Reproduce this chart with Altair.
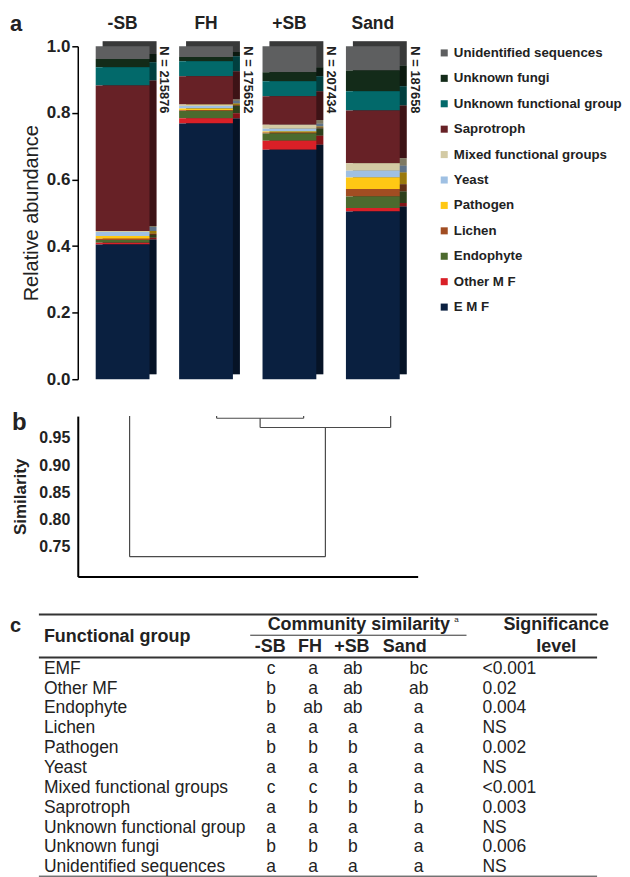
import altair as alt
import pandas as pd

# ---------------- data ----------------
sites = ["-SB", "FH", "+SB", "Sand"]
n_seqs = [215876, 175652, 207434, 187658]

groups = ["Unidentified sequences", "Unknown fungi", "Unknown functional group", "Saprotroph",
          "Mixed functional groups", "Yeast", "Pathogen", "Lichen", "Endophyte", "Other M F", "E M F"]
colors = ["#5e5f60", "#132b19", "#02696a", "#672126", "#d3caa4", "#9fc0e3",
          "#ffc814", "#a14d22", "#4c6a2e", "#d92027", "#0a2040"]

# relative abundance, same order as groups
ab_minus_sb = [0.038, 0.025, 0.055, 0.437, 0.003, 0.012, 0.008, 0.004, 0.008, 0.005, 0.405]
ab_fh = [0.032, 0.013, 0.045, 0.085, 0.004, 0.008, 0.005, 0.002, 0.022, 0.016, 0.768]
ab_plus_sb = [0.078, 0.027, 0.045, 0.086, 0.012, 0.008, 0.003, 0.003, 0.022, 0.027, 0.689]
ab_sand = [0.073, 0.062, 0.058, 0.158, 0.023, 0.020, 0.035, 0.022, 0.035, 0.010, 0.504]

# dendrogram (similarity)
leaf_order = ["-SB", "FH", "+SB", "Sand"]
merge_left = ["FH", "FH|+SB", "-SB"]
merge_right = ["+SB", "Sand", "FH|+SB|Sand"]
merge_sim = [0.986, 0.969, 0.7315]
sim_ticks = [0.75, 0.80, 0.85, 0.90, 0.95]

# table
table_groups = ["EMF", "Other MF", "Endophyte", "Lichen", "Pathogen", "Yeast",
                "Mixed functional groups", "Saprotroph", "Unknown functional group",
                "Unknown fungi", "Unidentified sequences"]
sim_minus_sb = ["c", "b", "b", "a", "b", "a", "c", "a", "a", "b", "a"]
sim_fh = ["a", "a", "ab", "a", "b", "a", "c", "b", "a", "b", "a"]
sim_plus_sb = ["ab", "ab", "ab", "a", "b", "a", "b", "b", "a", "b", "a"]
sim_sand = ["bc", "ab", "a", "a", "a", "a", "a", "b", "a", "a", "a"]
significance = ["<0.001", "0.02", "0.004", "NS", "0.002", "NS", "<0.001", "0.003", "NS", "0.006", "NS"]

TXT = "#222222"
FONT = "Liberation Sans"

# ---------------- panel a ----------------
rows = []
for s, vals in zip(sites, [ab_minus_sb, ab_fh, ab_plus_sb, ab_sand]):
    for k, (g, v) in enumerate(zip(groups, vals)):
        rows.append({"site": s, "group": g, "value": v, "stack": len(groups) - 1 - k})
df_a = pd.DataFrame(rows)

W_A, H_A = 341, 334
xa = alt.X("site:N", sort=sites,
           scale=alt.Scale(paddingInner=0.355, paddingOuter=0.215),
           axis=alt.Axis(orient="top", title=None, labelAngle=0, ticks=False, domain=False,
                         labelFontSize=17.5, labelFontWeight="bold", labelColor=TXT,
                         labelPadding=13.5))
ya = alt.Y("value:Q", stack="zero", scale=alt.Scale(domain=[0, 1], nice=False),
           axis=alt.Axis(values=[0, 0.2, 0.4, 0.6, 0.8, 1.0], format=".1f", grid=False,
                         domainColor="black", domainWidth=1.5, tickColor="black", tickSize=6,
                         tickWidth=1.5, labelFontSize=17, labelFontWeight="bold", labelColor=TXT,
                         labelPadding=2, title="Relative abundance", titleFontSize=20,
                         titleFontWeight="normal", titleColor=TXT, titlePadding=5))
col_a = alt.Color("group:N", scale=alt.Scale(domain=groups, range=colors),
                  legend=alt.Legend(title=None, orient="right", offset=20, padding=0,
                                    symbolType="square", symbolSize=50, symbolStrokeWidth=0,
                                    labelFontSize=13.3, labelFontWeight="bold", labelColor=TXT,
                                    labelOffset=3, rowPadding=11.5, labelLimit=400))
ord_a = alt.Order("stack:Q")

side = alt.Chart(df_a).mark_bar(xOffset=7, yOffset=-5, y2Offset=-5).encode(
    x=xa, y=ya, color=col_a, order=ord_a)
side_shade = alt.Chart(df_a).mark_bar(xOffset=7, yOffset=-5, y2Offset=-5, color="black",
                                      opacity=0.4).encode(
    x=xa, y=ya, detail="group:N", order=ord_a)
front = alt.Chart(df_a).mark_bar().encode(x=xa, y=ya, color=col_a, order=ord_a)

df_n = pd.DataFrame({"site": sites, "label": [f"N = {n}" for n in n_seqs]})
ntext = alt.Chart(df_n).mark_text(angle=90, align="left", baseline="middle", xOffset=42,
                                  fontSize=13, fontWeight="bold", color=TXT).encode(
    x=alt.X("site:N", sort=sites), y=alt.datum(1.0), text="label:N")

panel_a = alt.layer(side, side_shade, front, ntext).properties(
    width=W_A, height=H_A,
    title=alt.TitleParams("a", anchor="start", frame="group", orient="top", fontSize=22,
                          fontWeight="bold", color=TXT, dx=-68, offset=-38,
                          baseline="alphabetic"))

# ---------------- panel b ----------------
node_x = {s: i for i, s in enumerate(leaf_order)}
node_h = {s: 1.0 for s in leaf_order}
segs = []
for a, b, h in zip(merge_left, merge_right, merge_sim):
    for n in (a, b):
        segs.append({"x": node_x[n], "x2": node_x[n], "y": h, "y2": min(node_h[n], 0.99)})
    segs.append({"x": node_x[a], "x2": node_x[b], "y": h, "y2": h})
    new = a + "|" + b
    node_x[new] = (node_x[a] + node_x[b]) / 2
    node_h[new] = h
df_b = pd.DataFrame(segs)

# layout: first leaf 52px right of the axis, leaves 87.3px apart
LEAF0, LEAF_STEP = 52, 87.3
W_B, H_B = 341, 161
xb_dom = [-LEAF0 / LEAF_STEP, (W_B - LEAF0) / LEAF_STEP]

panel_b = alt.Chart(df_b).mark_rule(color="#4a4a4a", strokeWidth=1.2).encode(
    x=alt.X("x:Q", scale=alt.Scale(domain=xb_dom, nice=False, zero=False),
            axis=alt.Axis(domainColor="black", domainWidth=2, ticks=False, labels=False,
                          title=None, grid=False)),
    x2="x2:Q",
    y=alt.Y("y:Q", scale=alt.Scale(domain=[0.695, 0.99], nice=False, zero=False),
            axis=alt.Axis(values=sim_ticks, format=".2f", ticks=False, grid=False,
                          domainColor="black", domainWidth=2, labelFontSize=16,
                          labelFontWeight="bold", labelColor=TXT, labelPadding=8,
                          title="Similarity", titleFontSize=17, titleFontWeight="bold",
                          titleColor=TXT, titlePadding=9)),
    y2="y2:Q",
).properties(
    width=W_B, height=H_B,
    title=alt.TitleParams("b", anchor="start", frame="group", orient="top", fontSize=24,
                          fontWeight="bold", color=TXT, dx=-66, offset=-39,
                          baseline="alphabetic"))

# ---------------- panel c (table) ----------------
ORIGIN = 78          # left edge of the plot areas on the page
ROW_TOP = -3.44      # table row units shown above the first row
ROW_BOT = 10.47
ROW_H = 19.92
W_C = 521
H_C = round((ROW_BOT - ROW_TOP) * ROW_H)

col_abs = {"label": 44, "-SB": 272, "FH": 314, "+SB": 354, "Sand": 420, "sig": 484}
hdr_abs = {"-SB": 271, "FH": 311, "+SB": 353, "Sand": 406}


def cx(v):
    return v - ORIGIN


xs = alt.Scale(domain=[0, W_C], nice=False, zero=False)
ys = alt.Scale(domain=[ROW_TOP, ROW_BOT], reverse=True, nice=False, zero=False)


def enc(ch):
    return ch.encode(x=alt.X("x:Q", scale=xs, axis=None), y=alt.Y("r:Q", scale=ys, axis=None),
                     text="t:N")


label_df = pd.DataFrame({"t": table_groups, "x": cx(col_abs["label"]),
                         "r": list(range(len(table_groups)))})
cell_rows = []
for site, vals in zip(sites, [sim_minus_sb, sim_fh, sim_plus_sb, sim_sand]):
    for i, v in enumerate(vals):
        cell_rows.append({"t": v, "x": cx(col_abs[site]), "r": i})
cell_df = pd.DataFrame(cell_rows)
sig_df = pd.DataFrame({"t": significance, "x": cx(col_abs["sig"]),
                       "r": list(range(len(significance)))})

hdr_center = pd.DataFrame(
    [{"t": "Community similarity", "x": cx(360), "r": -2.2},
     {"t": "Significance", "x": cx(558), "r": -2.2},
     {"t": "level", "x": cx(558), "r": -1.1}]
    + [{"t": s, "x": cx(hdr_abs[s]), "r": -1.1} for s in sites])
hdr_left = pd.DataFrame([{"t": "Functional group", "x": cx(44), "r": -1.6}])
sup_df = pd.DataFrame([{"t": "a", "x": cx(458), "r": -2.45}])

rule_df = pd.DataFrame([
    {"x": cx(39), "x2": cx(599), "r": -2.73, "w": 2},
    {"x": cx(251), "x2": cx(468), "r": -1.69, "w": 1},
    {"x": cx(39), "x2": cx(599), "r": -0.57, "w": 2},
    {"x": cx(39), "x2": cx(599), "r": 10.45, "w": 1},
])

TFS = 17.5
HFS = 18
t_rules = alt.Chart(rule_df).mark_rule(color="#333333").encode(
    x=alt.X("x:Q", scale=xs, axis=None), x2="x2:Q",
    y=alt.Y("r:Q", scale=ys, axis=None), strokeWidth=alt.StrokeWidth("w:Q", scale=None))
t_labels = enc(alt.Chart(label_df).mark_text(align="left", baseline="middle", fontSize=TFS,
                                             color=TXT))
t_cells = enc(alt.Chart(cell_df).mark_text(align="center", baseline="middle", fontSize=TFS,
                                           color=TXT))
t_sig = enc(alt.Chart(sig_df).mark_text(align="left", baseline="middle", fontSize=TFS,
                                        color=TXT))
t_hc = enc(alt.Chart(hdr_center).mark_text(align="center", baseline="middle", fontSize=HFS,
                                           fontWeight="bold", color=TXT))
t_hl = enc(alt.Chart(hdr_left).mark_text(align="left", baseline="middle", fontSize=HFS,
                                         fontWeight="bold", color=TXT))
t_sup = enc(alt.Chart(sup_df).mark_text(align="center", baseline="middle", fontSize=8,
                                        color=TXT))

panel_c = alt.layer(t_rules, t_labels, t_cells, t_sig, t_hc, t_hl, t_sup).properties(
    width=W_C, height=H_C,
    title=alt.TitleParams("c", anchor="start", frame="group", orient="top", fontSize=20,
                          fontWeight="bold", color=TXT, dx=-68, offset=-52,
                          baseline="alphabetic"))

chart = alt.vconcat(panel_a, panel_b, panel_c, spacing=24).resolve_scale(
    color="independent", x="independent", y="independent"
).resolve_legend(color="independent").properties(
    padding={"left": 2, "top": 3, "right": 0, "bottom": 0}
).configure(font=FONT).configure_view(strokeWidth=0)

chart.save("out.html", embed_options={"renderer": "svg", "actions": False})
